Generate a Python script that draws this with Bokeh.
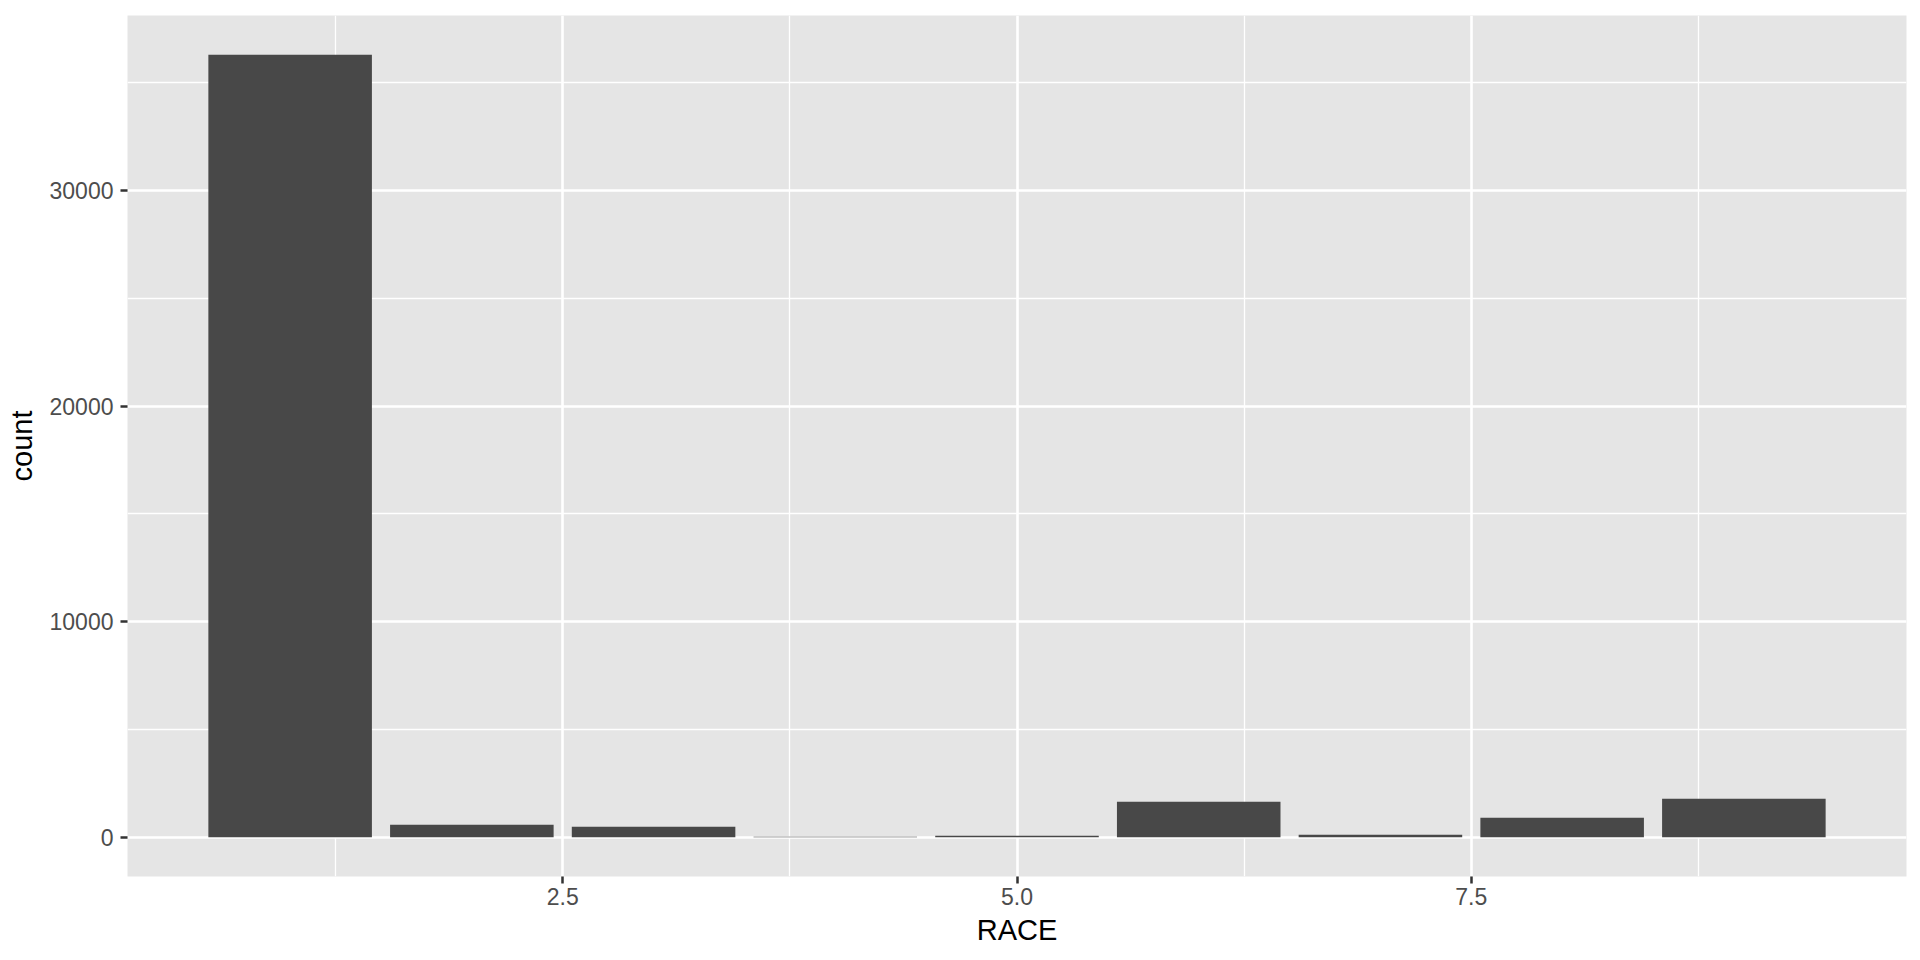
from bokeh.plotting import figure
from bokeh.models import Range1d, FixedTicker
from bokeh.embed import file_html
from bokeh.resources import INLINE

# Data
race = [1, 2, 3, 4, 5, 6, 7, 8, 9]
count = [36300, 590, 495, 30, 77, 1655, 124, 913, 1794]

x_ticks = [2.5, 5.0, 7.5]
x_tick_labels = ["2.5", "5.0", "7.5"]
x_minor = [1.25, 3.75, 6.25, 8.75]
y_ticks = [0, 10000, 20000, 30000]
y_tick_labels = ["0", "10000", "20000", "30000"]
y_minor = [5000, 15000, 25000, 35000]

BAR_W = 0.9
xlo = min(race) - BAR_W / 2
xhi = max(race) + BAR_W / 2
xpad = (xhi - xlo) * 0.05
ymax = max(count)
ypad = ymax * 0.05

p = figure(width=1912, height=952, output_backend="svg", toolbar_location=None,
           x_range=Range1d(xlo - xpad, xhi + xpad),
           y_range=Range1d(-ypad, ymax + ypad),
           min_border_left=127, min_border_right=6, min_border_top=15, min_border_bottom=76)

p.background_fill_color = "#E5E5E5"
p.border_fill_color = "white"
p.outline_line_color = None

p.vbar(x=race, top=count, bottom=0, width=BAR_W, fill_color="#484848", line_color=None)

p.xaxis.ticker = FixedTicker(ticks=x_ticks, minor_ticks=x_minor)
p.yaxis.ticker = FixedTicker(ticks=y_ticks, minor_ticks=y_minor)
p.xaxis.major_label_overrides = dict(zip(x_ticks, x_tick_labels))
p.yaxis.major_label_overrides = dict(zip(y_ticks, y_tick_labels))

for g in (p.xgrid, p.ygrid):
    g.grid_line_color = "white"
    g.grid_line_width = 2.6
    g.minor_grid_line_color = "white"
    g.minor_grid_line_width = 1.3

for ax in (p.xaxis, p.yaxis):
    ax.axis_line_color = None
    ax.major_tick_line_color = "#333333"
    ax.major_tick_line_width = 2.5
    ax.major_tick_out = 7
    ax.major_tick_in = 0
    ax.minor_tick_out = 0
    ax.minor_tick_in = 0
    ax.minor_tick_line_color = None
    ax.major_label_text_font = "Liberation Sans"
    ax.major_label_text_font_size = "23px"
    ax.major_label_text_color = "#4D4D4D"
    ax.axis_label_text_font = "Liberation Sans"
    ax.axis_label_text_font_size = "29px"
    ax.axis_label_text_font_style = "normal"
    ax.axis_label_text_color = "black"

p.xaxis.axis_label = "RACE"
p.yaxis.axis_label = "count"
p.xaxis.major_label_standoff = 4
p.xaxis.axis_label_standoff = 6
p.yaxis.major_label_standoff = 7
p.yaxis.axis_label_standoff = 9

open("out.html", "w").write(file_html(p, INLINE))
